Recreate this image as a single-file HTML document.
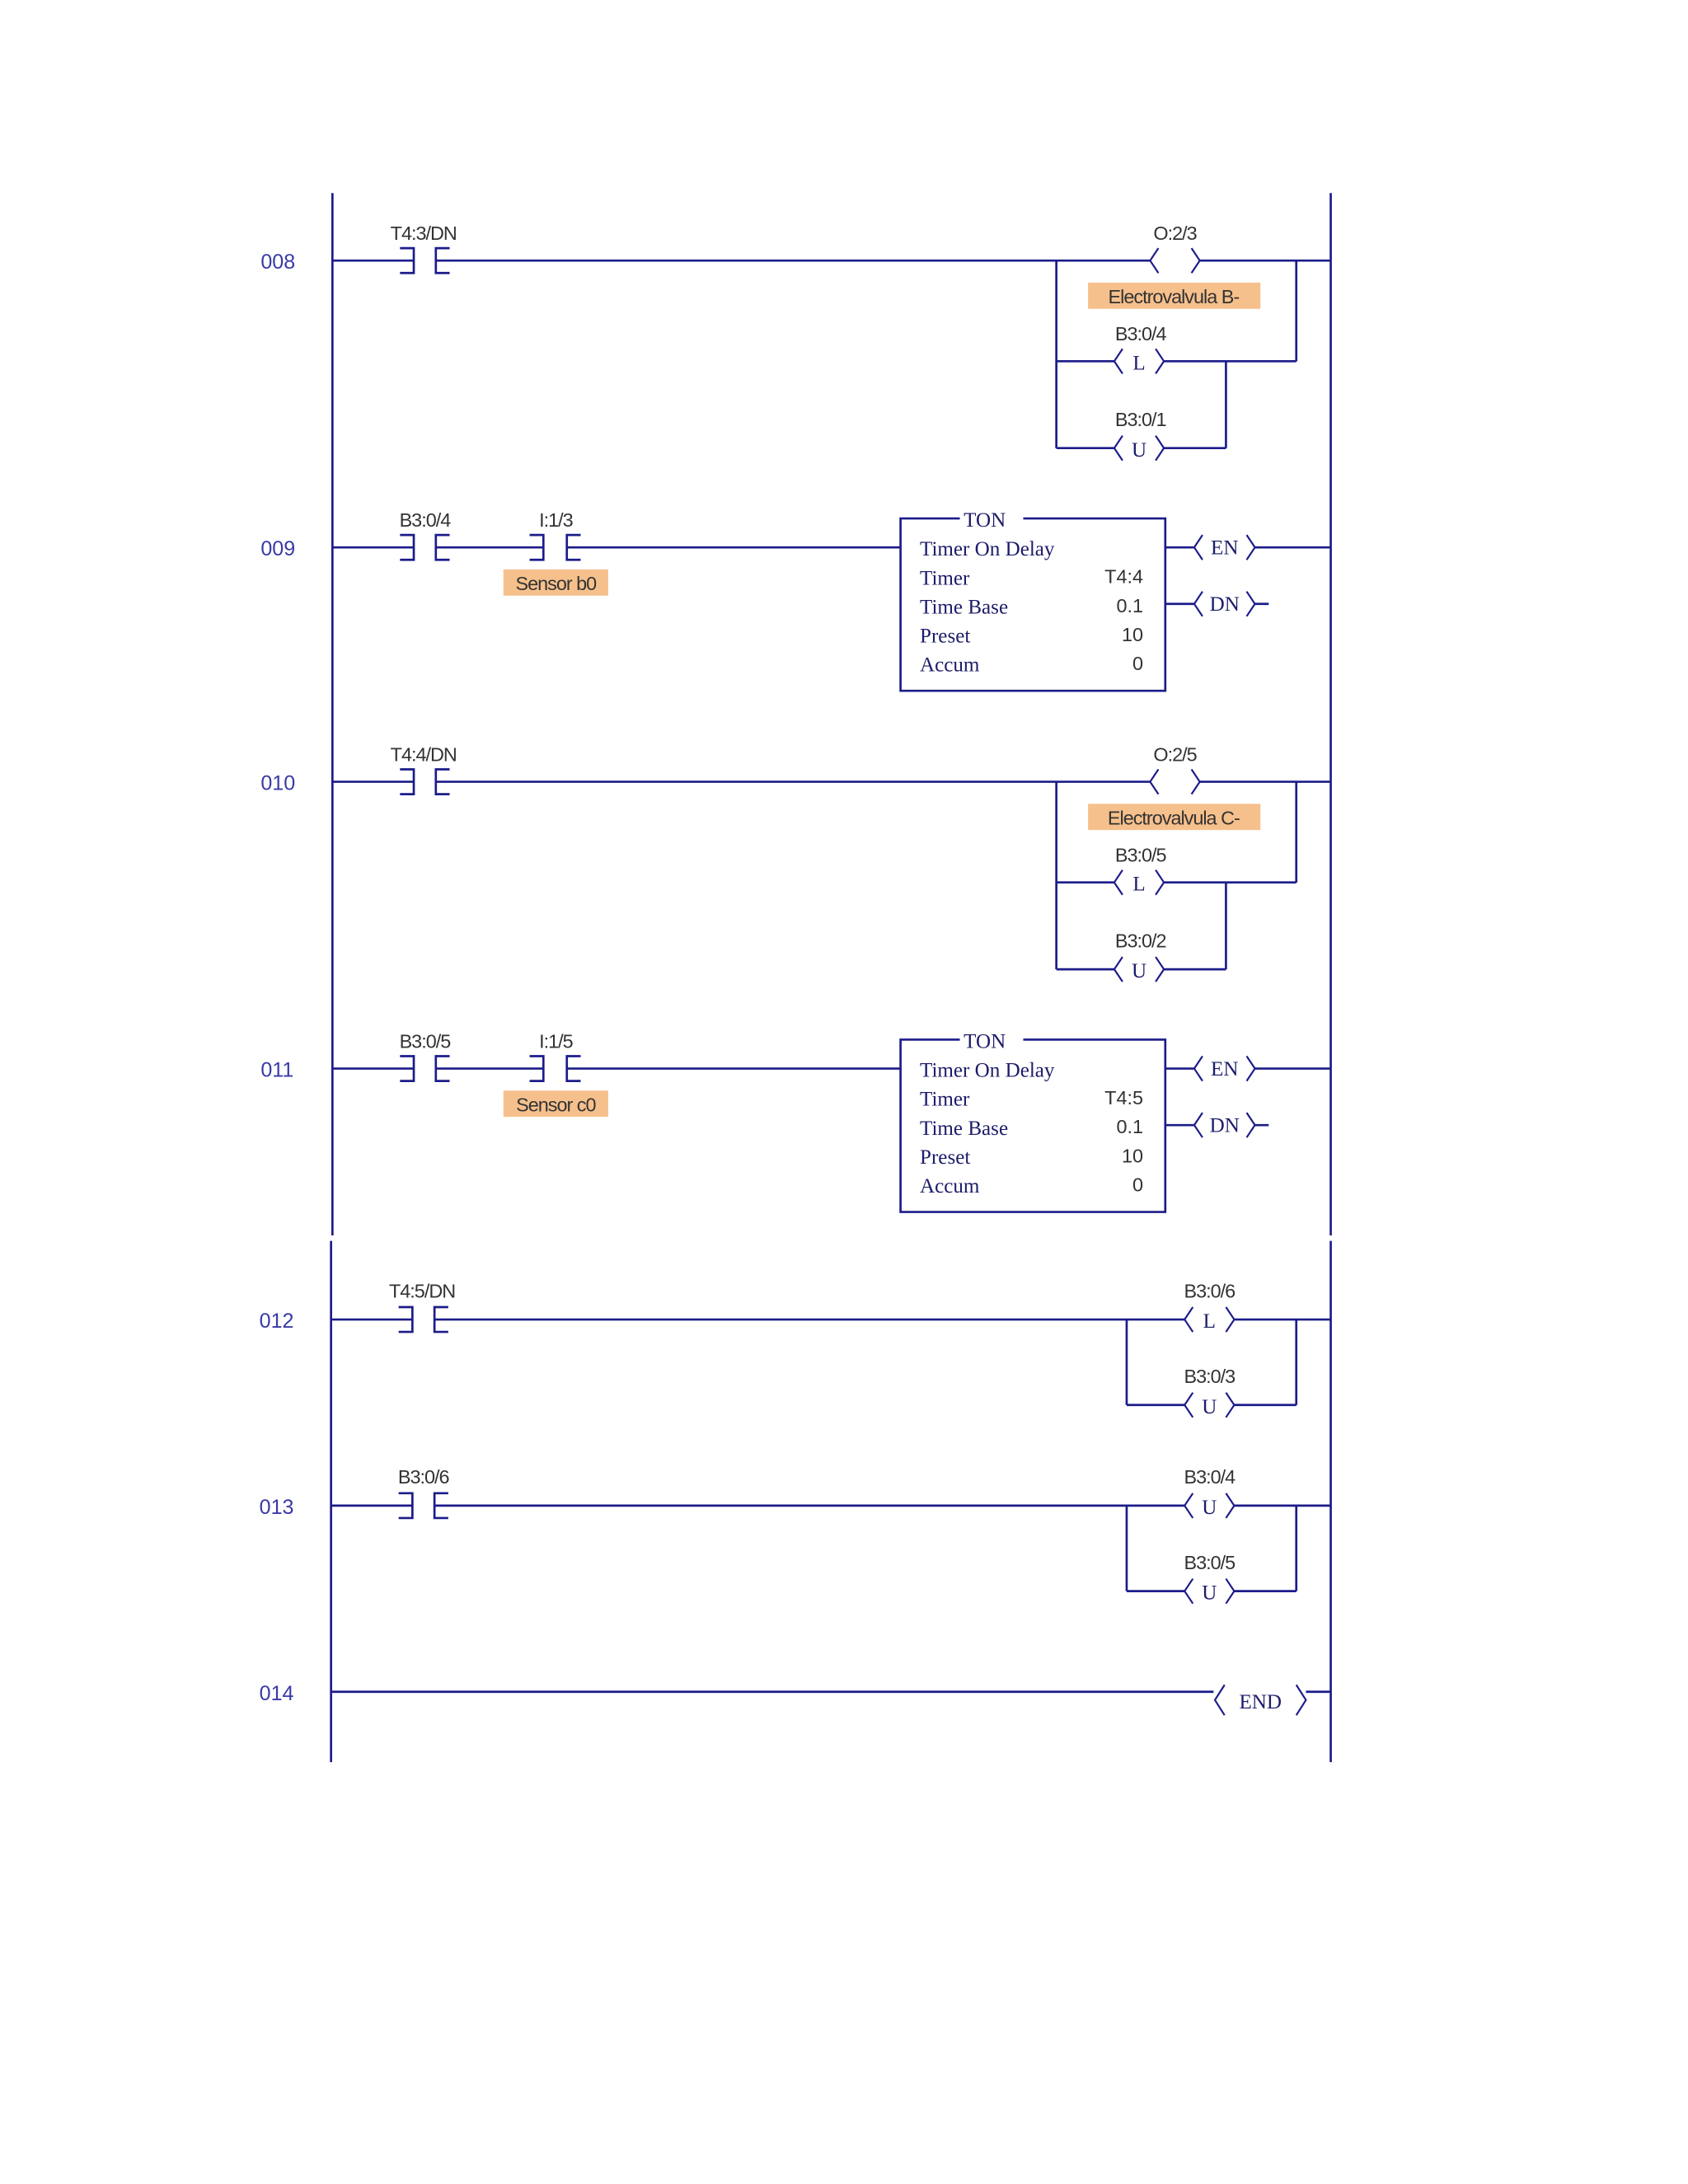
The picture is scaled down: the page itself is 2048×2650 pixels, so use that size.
<!DOCTYPE html>
<html><head><meta charset="utf-8"><style>
html,body{margin:0;padding:0;background:#fff;}
svg{display:block;}
.w{stroke:#1c1c8a;stroke-width:1.6;fill:none;}
.c{stroke:#1c1c8a;stroke-width:1.3;fill:none;}
.n{font-family:"Liberation Sans",sans-serif;font-size:15px;fill:#3a3aa8;}
.t{font-family:"Liberation Sans",sans-serif;font-size:14px;fill:#333;text-anchor:middle;letter-spacing:-0.6px;}
.s{font-family:"Liberation Serif",serif;font-size:15px;fill:#1c1c6a;}
.v{font-family:"Liberation Sans",sans-serif;font-size:14px;fill:#333;text-anchor:end;}
.k{font-family:"Liberation Serif",serif;font-size:15px;fill:#1c1c6a;text-anchor:middle;}
.o{fill:#f6c08c;}
</style></head><body>
<svg width="2048" height="2650" viewBox="0 0 1224 1584" xmlns="http://www.w3.org/2000/svg">
<!-- rails -->
<line class="w" x1="241" y1="140" x2="241" y2="896"/>
<line class="w" x1="965" y1="140" x2="965" y2="896"/>
<line class="w" x1="240" y1="900" x2="240" y2="1278"/>
<line class="w" x1="965" y1="900" x2="965" y2="1278"/>

<!-- rung 008 -->
<g id="r8">
<line class="w" x1="241" y1="189" x2="300" y2="189"/>
<path class="w" d="M290,180 L300,180 L300,198 L290,198"/>
<path class="w" d="M326,180 L316,180 L316,198 L326,198"/>
<line class="w" x1="316" y1="189" x2="834" y2="189"/>
<path class="c" d="M840,180 L834,189 L840,198 M864,180 L870,189 L864,198"/>
<line class="w" x1="870" y1="189" x2="965" y2="189"/>
<line class="w" x1="766" y1="189" x2="766" y2="325"/>
<line class="w" x1="940" y1="189" x2="940" y2="262"/>
<rect class="o" x="789" y="205" width="125" height="19"/>
<line class="w" x1="766" y1="262" x2="808" y2="262"/>
<path class="c" d="M814,253 L808,262 L814,271 M838,253 L844,262 L838,271"/>
<text class="k" x="826" y="268">L</text>
<line class="w" x1="844" y1="262" x2="940" y2="262"/>
<line class="w" x1="889" y1="262" x2="889" y2="325"/>
<line class="w" x1="766" y1="325" x2="808" y2="325"/>
<path class="c" d="M814,316 L808,325 L814,334 M838,316 L844,325 L838,334"/>
<text class="k" x="826" y="331">U</text>
<line class="w" x1="844" y1="325" x2="889" y2="325"/>
</g>
<text class="n" x="189" y="195">008</text>
<text class="t" x="307" y="174">T4:3/DN</text>
<text class="t" x="852" y="174">O:2/3</text>
<text class="t" x="851" y="220">Electrovalvula B-</text>
<text class="t" x="827" y="247">B3:0/4</text>
<text class="t" x="827" y="309">B3:0/1</text>

<!-- rung 009 -->
<g id="r9">
<line class="w" x1="241" y1="397" x2="300" y2="397"/>
<path class="w" d="M290,388 L300,388 L300,406 L290,406"/>
<path class="w" d="M326,388 L316,388 L316,406 L326,406"/>
<line class="w" x1="316" y1="397" x2="394" y2="397"/>
<path class="w" d="M384,388 L394,388 L394,406 L384,406"/>
<path class="w" d="M421,388 L411,388 L411,406 L421,406"/>
<line class="w" x1="411" y1="397" x2="653" y2="397"/>
<rect class="o" x="365" y="413" width="76" height="19"/>
<path class="w" d="M696,376 L653,376 L653,501 L845,501 L845,376 L742,376"/>
<line class="w" x1="845" y1="397" x2="866" y2="397"/>
<path class="c" d="M872,388 L866,397 L872,406 M904,388 L910,397 L904,406"/>
<line class="w" x1="910" y1="397" x2="965" y2="397"/>
<line class="w" x1="845" y1="438" x2="866" y2="438"/>
<path class="c" d="M872,429 L866,438 L872,447 M904,429 L910,438 L904,447"/>
<line class="w" x1="910" y1="438" x2="920" y2="438"/>
</g>
<text class="n" x="189" y="403">009</text>
<text class="t" x="308" y="382">B3:0/4</text>
<text class="t" x="403" y="382">I:1/3</text>
<text class="t" x="403" y="428">Sensor b0</text>
<text class="k" x="714" y="382">TON</text>
<text class="s" x="667" y="403">Timer On Delay</text>
<text class="s" x="667" y="424">Timer</text>
<text class="s" x="667" y="445">Time Base</text>
<text class="s" x="667" y="466">Preset</text>
<text class="s" x="667" y="487">Accum</text>
<text class="v" x="829" y="423">T4:4</text>
<text class="v" x="829" y="444">0.1</text>
<text class="v" x="829" y="465">10</text>
<text class="v" x="829" y="486">0</text>
<text class="k" x="888" y="402">EN</text>
<text class="k" x="888" y="443">DN</text>

<!-- rung 010 -->
<use href="#r8" transform="translate(0,378)"/>
<text class="n" x="189" y="573">010</text>
<text class="t" x="307" y="552">T4:4/DN</text>
<text class="t" x="852" y="552">O:2/5</text>
<text class="t" x="851" y="598">Electrovalvula C-</text>
<text class="t" x="827" y="625">B3:0/5</text>
<text class="t" x="827" y="687">B3:0/2</text>

<!-- rung 011 -->
<use href="#r9" transform="translate(0,378)"/>
<text class="n" x="189" y="781">011</text>
<text class="t" x="308" y="760">B3:0/5</text>
<text class="t" x="403" y="760">I:1/5</text>
<text class="t" x="403" y="806">Sensor c0</text>
<text class="k" x="714" y="760">TON</text>
<text class="s" x="667" y="781">Timer On Delay</text>
<text class="s" x="667" y="802">Timer</text>
<text class="s" x="667" y="823">Time Base</text>
<text class="s" x="667" y="844">Preset</text>
<text class="s" x="667" y="865">Accum</text>
<text class="v" x="829" y="801">T4:5</text>
<text class="v" x="829" y="822">0.1</text>
<text class="v" x="829" y="843">10</text>
<text class="v" x="829" y="864">0</text>
<text class="k" x="888" y="780">EN</text>
<text class="k" x="888" y="821">DN</text>

<!-- rung 012 -->
<g id="r12">
<line class="w" x1="240" y1="957" x2="299" y2="957"/>
<path class="w" d="M289,948 L299,948 L299,966 L289,966"/>
<path class="w" d="M325,948 L315,948 L315,966 L325,966"/>
<line class="w" x1="315" y1="957" x2="859" y2="957"/>
<path class="c" d="M865,948 L859,957 L865,966 M889,948 L895,957 L889,966"/>
<line class="w" x1="895" y1="957" x2="965" y2="957"/>
<line class="w" x1="817" y1="957" x2="817" y2="1019"/>
<line class="w" x1="940" y1="957" x2="940" y2="1019"/>
<line class="w" x1="817" y1="1019" x2="859" y2="1019"/>
<path class="c" d="M865,1010 L859,1019 L865,1028 M889,1010 L895,1019 L889,1028"/>
<line class="w" x1="895" y1="1019" x2="940" y2="1019"/>
</g>
<text class="n" x="188" y="963">012</text>
<text class="t" x="306" y="941">T4:5/DN</text>
<text class="t" x="877" y="941">B3:0/6</text>
<text class="k" x="877" y="963">L</text>
<text class="t" x="877" y="1003">B3:0/3</text>
<text class="k" x="877" y="1025">U</text>

<!-- rung 013 -->
<use href="#r12" transform="translate(0,135)"/>
<text class="n" x="188" y="1098">013</text>
<text class="t" x="307" y="1076">B3:0/6</text>
<text class="t" x="877" y="1076">B3:0/4</text>
<text class="k" x="877" y="1098">U</text>
<text class="t" x="877" y="1138">B3:0/5</text>
<text class="k" x="877" y="1160">U</text>

<!-- rung 014 -->
<text class="n" x="188" y="1233">014</text>
<line class="w" x1="240" y1="1227" x2="880" y2="1227"/>
<path class="c" d="M888,1222 L881,1233 L888,1244 M940,1222 L947,1233 L940,1244"/>
<line class="w" x1="947" y1="1227" x2="965" y2="1227"/>
<text class="k" x="914" y="1239">END</text>
</svg>
</body></html>
